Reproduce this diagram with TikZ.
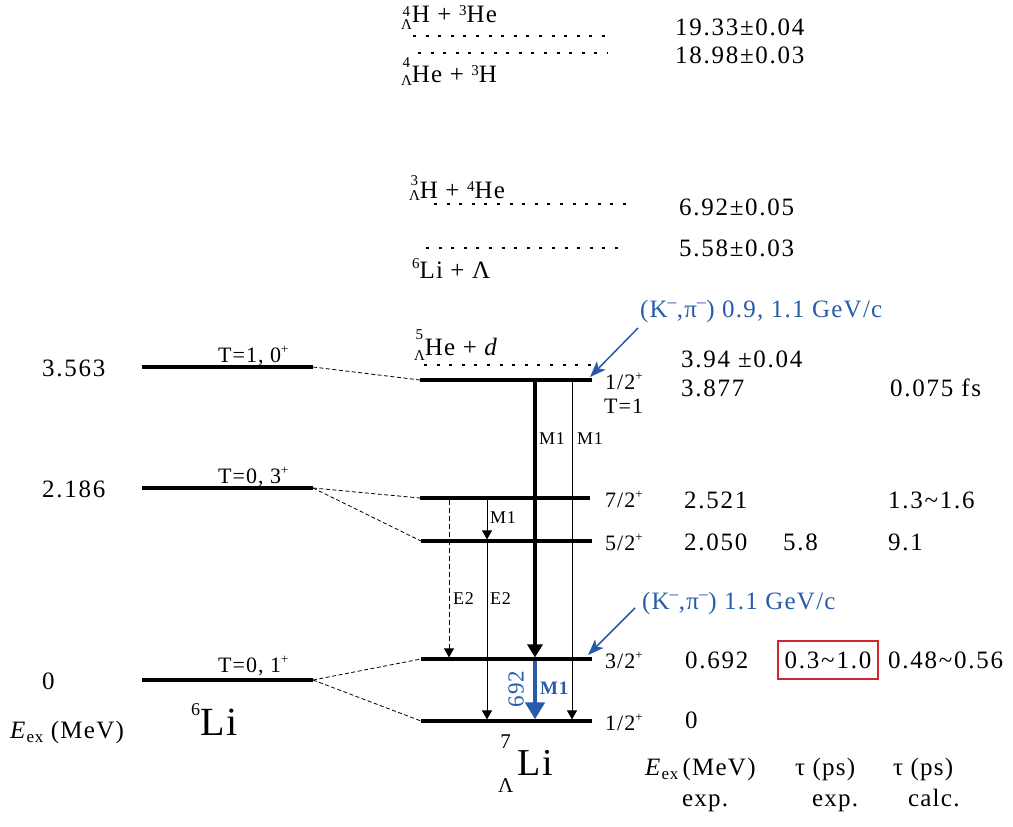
\documentclass[tikz,border=0pt]{standalone}
\usepackage{fontspec}
\setmainfont{Liberation Serif}[LetterSpace=5]
\usetikzlibrary{arrows.meta}
\definecolor{kblue}{RGB}{38,92,170}
\definecolor{kred}{RGB}{212,38,48}
\newcommand\fsz[1]{\fontsize{#1}{#1}\selectfont}
% pre-scripts: #1 mass number, #2 script size, #3 raise of mass, #4 lowering of Lambda
\newcommand\hy[4]{\hbox{\fsz{#2}\setbox0\hbox{Λ}\rlap{\raisebox{#3}{\hbox to\wd0{\hss#1\hss}}}\raisebox{-#4}{\copy0}}}
\newcommand\sups[2]{\raisebox{#1}{\fsz{15}#2}}
\newcommand\pl{\raisebox{9pt}{\fsz{13}+}}
\begin{document}
\begin{tikzpicture}[x=1pt,y=-1pt,
  every node/.style={inner sep=0pt,outer sep=0pt},
  lev/.style={line width=3.2pt},
  thr/.style={line width=2.8pt,dash pattern=on 3pt off 9.6pt},
  lnk/.style={line width=0.8pt,dash pattern=on 4pt off 2.5pt},
  arrthin/.style={line width=1pt,-{Triangle[length=9pt,width=10pt]}},
  arrdash/.style={arrthin,dash pattern=on 5pt off 3pt},
  arrthick/.style={line width=3.6pt,-{Triangle[length=13pt,width=15pt]}},
  arrblue/.style={kblue,line width=4.2pt,-{Triangle[length=17pt,width=19pt]}},
  ann/.style={kblue,line width=1.5pt,-{Stealth[length=16pt,width=12pt,inset=4pt]}},
  txt/.style={font=\fsz{25}},
  val/.style={font=\fsz{25}\addfontfeature{LetterSpace=7}},
  small/.style={font=\fsz{22}},
  tiny/.style={font=\fsz{18}},
]
\useasboundingbox (0,0) rectangle (1013,827);

% ---- 6Li levels
\coordinate (a1L) at (142,367); \coordinate (a1R) at (313,367);
\coordinate (a2L) at (142,488); \coordinate (a2R) at (313,488);
\coordinate (a3L) at (142,680); \coordinate (a3R) at (313,680);
% ---- 7LLi levels
\coordinate (b1L) at (420,380); \coordinate (b1R) at (592,380);
\coordinate (b2L) at (420,498); \coordinate (b2R) at (590,498);
\coordinate (b3L) at (421,541); \coordinate (b3R) at (592,541);
\coordinate (b4L) at (421,659); \coordinate (b4R) at (592,659);
\coordinate (b5L) at (421,721); \coordinate (b5R) at (592,721);

\foreach \n in {a1,a2,a3,b1,b2,b3,b4,b5} \draw[lev] (\n L) -- (\n R);

\draw[lnk] (a1R) -- (b1L);
\draw[lnk] (a2R) -- (b2L);
\draw[lnk] (a2R) -- (b3L);
\draw[lnk] (a3R) -- (b4L);
\draw[lnk] (a3R) -- (b5L);

% ---- thresholds
\coordinate (d1L) at (413,36);  \coordinate (d1R) at (606,36);
\coordinate (d2L) at (418,53);  \coordinate (d2R) at (608,53);
\coordinate (d3L) at (434,204); \coordinate (d3R) at (626,204);
\coordinate (d4L) at (426,248); \coordinate (d4R) at (618,248);
\coordinate (d5L) at (424,365); \coordinate (d5R) at (598,365);
\foreach \n in {d1,d2,d3,d4,d5} \draw[thr] (\n L) -- (\n R);

\node[txt,anchor=base west] (h1) at (401,23) {\hy{4}{15}{6pt}{7pt}H + \sups{7pt}{3}He};
\node[txt,anchor=base west] (h2) at (401,82) {\hy{4}{15}{15pt}{3pt}He + \sups{7pt}{3}H};
\node[txt,anchor=base west] (h3) at (409,198) {\hy{3}{15}{13pt}{2pt}H + \sups{7pt}{4}He};
\node[txt,anchor=base west] (h4) at (412,278) {\sups{10pt}{6}Li + Λ};
\node[txt,anchor=base west] (h5) at (414,355) {\hy{5}{15}{16pt}{5pt}He + \textit{d}};

% ---- values
\node[val,anchor=west] (v1) at (675,27) {19.33±0.04};
\node[val,anchor=west] (v2) at (675,55) {18.98±0.03};
\node[val,anchor=west] (v3) at (679,207) {6.92±0.05};
\node[val,anchor=west] (v4) at (679,248) {5.58±0.03};
\node[val,anchor=west] (v5) at (681,359) {3.94 ±0.04};
\node[val,anchor=west] (v6) at (681,388) {3.877};
\node[val,anchor=west] (v7) at (890,388) {0.075 fs};
\node[val,anchor=west] (v8) at (684,500) {2.521};
\node[val,anchor=west] (v9) at (888,500) {1.3\textasciitilde 1.6};
\node[val,anchor=west] (v10) at (684,542) {2.050};
\node[val,anchor=west] (v11) at (783,542) {5.8};
\node[val,anchor=west] (v12) at (888,542) {9.1};
\node[val,anchor=west] (v13) at (685,660) {0.692};
\node[val,draw=kred,line width=2pt,minimum width=100pt,minimum height=38pt] (v14) at (828,660) {0.3\textasciitilde 1.0};
\node[val,anchor=west] (v15) at (888,660) {0.48\textasciitilde 0.56};
\node[val,anchor=west] (v16) at (685,720) {0};

% ---- spin labels
\node[small,anchor=base west] (s1) at (605,389) {1/2\pl};
\node[small,anchor=base west] (s1t) at (604,413) {T=1};
\node[small,anchor=base west] (s2) at (605,507) {7/2\pl};
\node[small,anchor=base west] (s3) at (605,550) {5/2\pl};
\node[small,anchor=base west] (s4) at (605,668) {3/2\pl};
\node[small,anchor=base west] (s5) at (605,730) {1/2\pl};

% ---- left labels
\node[val,anchor=west] (l1) at (42,368) {3.563};
\node[val,anchor=west] (l2) at (42,489) {2.186};
\node[val,anchor=west] (l3) at (42,681) {0};
\node[txt,anchor=base west] (l4) at (10,738) {\textit{E}\raisebox{-4pt}{\fsz{17}ex} (MeV)};
\node[small,anchor=base west] (t1) at (218,362) {T=1, 0\pl};
\node[small,anchor=base west] (t2) at (218,483) {T=0, 3\pl};
\node[small,anchor=base west] (t3) at (218,672) {T=0, 1\pl};
\node[font=\fsz{40},anchor=base west] (li6) at (191,735) {\raisebox{20pt}{\fsz{18}6}Li};
\node[font=\fsz{38},anchor=base west] (li7) at (498,775) {\hy{7}{21}{27pt}{17pt}\kern4pt Li};

% ---- column headers
\node[txt,anchor=base west] (c1) at (645,775) {\textit{E}\raisebox{-4pt}{\fsz{17}ex}\,(MeV)};
\node[txt,anchor=base west] (c2) at (795,775) {τ (ps)};
\node[txt,anchor=base west] (c3) at (893,775) {τ (ps)};
\node[txt,anchor=base west] (c4) at (682,806) {exp.};
\node[txt,anchor=base west] (c5) at (812,806) {exp.};
\node[txt,anchor=base west] (c6) at (908,806) {calc.};

% ---- transitions
\coordinate (m1s) at (535,381.6); \coordinate (m1e) at (535,657.4);
\coordinate (m2s) at (572,381.6); \coordinate (m2e) at (572,719.4);
\coordinate (m3s) at (487,499.6); \coordinate (m3e) at (487,539.4);
\coordinate (e1s) at (449,499.6); \coordinate (e1e) at (449,657.4);
\coordinate (e2s) at (487,542.6); \coordinate (e2e) at (487,719.4);
\coordinate (bls) at (535,660.6); \coordinate (ble) at (535,719.4);
\draw[arrthick] (m1s) -- (m1e);
\draw[arrthin] (m2s) -- (m2e);
\draw[arrthin] (m3s) -- (m3e);
\draw[arrdash] (e1s) -- (e1e);
\draw[arrthin] (e2s) -- (e2e);
\draw[arrblue] (bls) -- (ble);

\node[tiny,anchor=west] (lm1) at (539,439) {M1};
\node[tiny,anchor=west] (lm2) at (577,439) {M1};
\node[tiny,anchor=west] (lm3) at (490,518) {M1};
\node[tiny,anchor=west] (le1) at (453,599) {E2};
\node[tiny,anchor=west] (le2) at (490,599) {E2};
\node[kblue,font=\fsz{23},rotate=90] (l692) at (516,689) {692};
\node[kblue,font=\fsz{19}\bfseries,anchor=west] (lm4) at (540,688) {M1};

% ---- reaction annotations
\node[kblue,txt,anchor=west] (k1) at (640,311) {(K\textsuperscript{–},π\textsuperscript{–}) 0.9, 1.1 GeV/c};
\node[kblue,txt,anchor=west] (k2) at (642,603) {(K\textsuperscript{–},π\textsuperscript{–}) 1.1 GeV/c};
\coordinate (k1s) at (638,328); \coordinate (k1e) at (590,377);
\coordinate (k2s) at (635,608); \coordinate (k2e) at (588,655);
\draw[ann] (k1s) -- (k1e);
\draw[ann] (k2s) -- (k2e);
\end{tikzpicture}
\end{document}
